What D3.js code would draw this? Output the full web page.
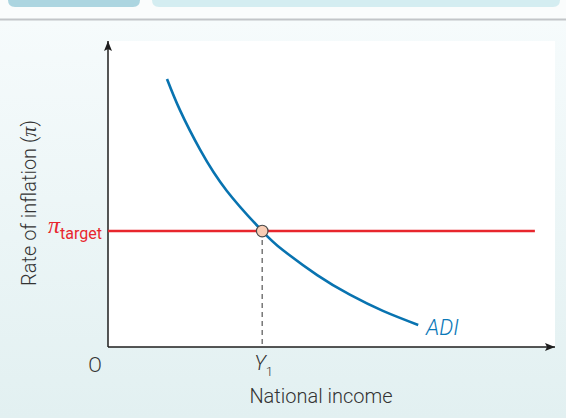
<!DOCTYPE html>
<html>
<head>
<meta charset="utf-8">
<script src="https://cdn.jsdelivr.net/npm/d3@7"></script>
<style>
  html, body { margin: 0; padding: 0; background: #fff; }
  svg { display: block; }
  text { font-family: Roboto, "Liberation Sans", Arial, sans-serif; font-weight: 300; }
</style>
</head>
<body>
<svg id="chart" width="566" height="418"></svg>
<script>
// ---- data (model units) ----
const adiIncome    = [13.2, 16.1, 20.6, 26.6, 34.5, 39.1, 46.8, 54.1, 61.5, 69.4];
const adiInflation = [87.6, 77.4, 64.5, 51.0, 37.9, 31.7, 23.5, 17.1, 11.8, 7.2];
const targetInflation = 37.9;
const targetLineEnd = 95.5;
const incomeY1 = 34.5;
const xLabel = "National income";
const yLabel = "Rate of inflation (";
const curveLabel = "ADI";
const originLabel = "O";

const svg = d3.select("#chart");
const W = 566, H = 418;

const x = d3.scaleLinear().domain([0, 100]).range([108, 555]);
const y = d3.scaleLinear().domain([0, 100]).range([347, 41]);

// ---- background ----
const defs = svg.append("defs");
const grad = defs.append("linearGradient").attr("id", "bg").attr("x1", 0).attr("y1", 0).attr("x2", 0).attr("y2", 1);
grad.append("stop").attr("offset", "0%").attr("stop-color", "#f6fbfc");
grad.append("stop").attr("offset", "100%").attr("stop-color", "#e2f0f1");

svg.append("rect").attr("x", 0).attr("y", 0).attr("width", W).attr("height", H).attr("fill", "#fafcfc");
svg.append("rect").attr("x", 0).attr("y", 20).attr("width", W).attr("height", H - 20).attr("fill", "url(#bg)");
svg.append("rect").attr("x", 0).attr("y", 18.5).attr("width", W).attr("height", 2).attr("fill", "#c2c5c8");

// header tabs
svg.append("path").attr("d", "M8,-10 H140 V0 Q140,7 133,7 H15 Q8,7 8,0 Z").attr("fill", "#acd5e0");
svg.append("path").attr("d", "M152,-10 H560 V0 Q560,7 553,7 H159 Q152,7 152,0 Z").attr("fill", "#d4edf1");

// white plot panel
svg.append("rect")
  .attr("x", x(0)).attr("y", y(100))
  .attr("width", x(100) - x(0)).attr("height", y(0) - y(100))
  .attr("fill", "#ffffff");

// arrow marker
defs.append("marker")
  .attr("id", "arrow").attr("viewBox", "0 0 10 8")
  .attr("refX", 10).attr("refY", 4)
  .attr("markerWidth", 10).attr("markerHeight", 8)
  .attr("markerUnits", "userSpaceOnUse")
  .attr("orient", "auto")
  .append("path").attr("d", "M0,0 L10,4 L0,8 L2,4 Z").attr("fill", "#1e1e1e");

// ---- axes ----
svg.append("line")
  .attr("x1", x(0)).attr("y1", y(0)).attr("x2", x(0)).attr("y2", y(100))
  .attr("stroke", "#1e1e1e").attr("stroke-width", 1.5)
  .attr("marker-end", "url(#arrow)");
svg.append("line")
  .attr("x1", x(0)).attr("y1", y(0)).attr("x2", x(100)).attr("y2", y(0))
  .attr("stroke", "#1e1e1e").attr("stroke-width", 1.5)
  .attr("marker-end", "url(#arrow)");

// dashed drop line
svg.append("line")
  .attr("x1", x(incomeY1)).attr("x2", x(incomeY1))
  .attr("y1", y(targetInflation)).attr("y2", y(0))
  .attr("stroke", "#777").attr("stroke-width", 1.5)
  .attr("stroke-dasharray", "5,4");

// target line
svg.append("line")
  .attr("x1", x(0)).attr("x2", x(targetLineEnd))
  .attr("y1", y(targetInflation)).attr("y2", y(targetInflation))
  .attr("stroke", "#e8262d").attr("stroke-width", 2.6);

// ADI curve
const pts = adiIncome.map((d, i) => [d, adiInflation[i]]);
const line = d3.line().x(d => x(d[0])).y(d => y(d[1])).curve(d3.curveNatural);
svg.append("path").attr("d", line(pts))
  .attr("fill", "none").attr("stroke", "#0873b0").attr("stroke-width", 2.6);

// intersection point
svg.append("circle")
  .attr("cx", x(incomeY1)).attr("cy", y(targetInflation)).attr("r", 5.8)
  .attr("fill", "#f9cdb5").attr("stroke", "#4a4a4a").attr("stroke-width", 1.2);

// ---- labels ----
svg.append("text").attr("x", 426).attr("y", 335)
  .attr("font-size", 22).attr("font-style", "italic").attr("fill", "#0a78b8")
  .text(curveLabel);

svg.append("text").attr("x", 95).attr("y", 372).attr("text-anchor", "middle")
  .attr("font-size", 20).attr("fill", "#333").text(originLabel);

const yt = svg.append("text").attr("x", x(incomeY1) - 8).attr("y", 370)
  .attr("font-size", 20).attr("fill", "#333");
yt.append("tspan").attr("font-style", "italic").text("Y");
yt.append("tspan").attr("font-size", 13).attr("dy", 6).text("1");

svg.append("text").attr("x", 321).attr("y", 403).attr("text-anchor", "middle")
  .attr("font-size", 20).attr("fill", "#333").text(xLabel);

const yl = svg.append("text")
  .attr("transform", "translate(36,203) rotate(-90)")
  .attr("text-anchor", "middle")
  .attr("font-size", 20).attr("fill", "#333");
yl.append("tspan").text(yLabel);
yl.append("tspan").attr("font-family", "'Liberation Serif', serif").attr("font-style", "italic").attr("font-weight", 400).text("\u03C0");
yl.append("tspan").text(")");

const pt = svg.append("text").attr("x", 102).attr("y", 233).attr("text-anchor", "end").attr("fill", "#e8262d");
pt.append("tspan").attr("font-family", "'Liberation Serif', serif").attr("font-style", "italic").attr("font-weight", 400)
  .attr("font-size", 24).text("\u03C0");
pt.append("tspan").attr("font-size", 16).attr("font-weight", 400).attr("dy", 6).text("target");
</script>
</body>
</html>
